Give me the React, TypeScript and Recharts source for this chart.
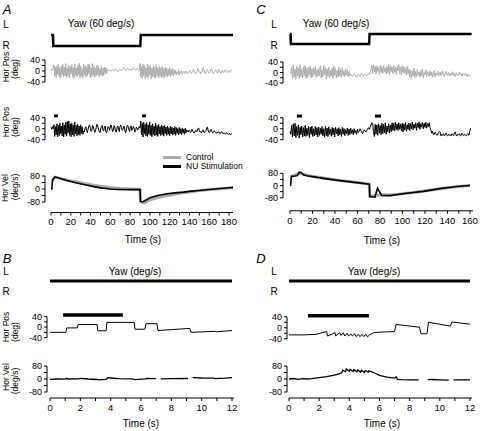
import { LineChart, Line, XAxis, YAxis, ReferenceLine } from "recharts"

const FONT = "'Liberation Sans', Arial, Helvetica, sans-serif"
const GRAY = "#ababab"
const BLACK = "#000"

// slow rotation recordings (A, C) are sampled every 0.75 s
const SLOW_DT = 0.75

// ---- A: 60 deg/s yaw steps ----
const aYawT = [0, 2, 2.3, 90.3, 90.8, 184]
const aYawV = [0, 0, -60, -60, 0, 0]
const aPosControl = [
  0, 6, 2, 10,
  22, -18, 15, -24, 19, -12, 25, -20, 12, -26,
  18, -15, 24, -21, 14, -17, 27, -23, 10, -19,
  21, -25, 16, -11, 23, -20, 13, -27, 26, -16,
  11, -22, 20, -14, 28, -24, 17, -19, 9, -26,
  24, -13, 19, -22, 15, -18, 25, -10, 22, -25,
  12, -20, 27, -15, 18, -23, 10, -17, 21, -12,
  16, -21, 8, -14, 19, -18, 11, -16, 14, -9,
  12, -10, 6,
  2, 5, 3, -1, 0, 4, 6, 3, 1, 4,
  7, 5, 2, -2, 1, 3, 6, 4, 2, 5,
  9, 12, 8, 4, 3, 6, 10, 7, 3, 5,
  8, 4, 2, 6, 11, 9, 5, 3, 7, 10,
  6, 4, 2,
  28, -22, 16, -26, 24, -18, 20, -27, 13, -21,
  25, -24, 17, -15, 22, -28, 11, -20, 19, -23,
  14, -26, 21, -17, 10, -25, 18, -19, 12, -24,
  16, -21, 8, -26, 14, -18, 11, -22, 6, -17,
  12, -20, 5, -15, 9, -19, 4,
  -12, 2, -14, -4, -10, 4, -16, -2, -8, 0,
  -12, -6, -2, -9, -4, 0, -7, -11, -5, -2,
  3, -4, -9, -6, -3, 6, 0, -8, -11, -4,
  -2, 9, 4, -6, -3, -10, -6, 0, 12, 6,
  -4, -9, -2, 1, 5, -3, -8, -5, 2, 8,
  3, -6, -10, -4, -1, 4, -2, -7, -3, 6,
  1, -5, -9, -2, 3, -4, -6, 0, 5, -1,
  -6, -3, 2, -2, -5, 1, 4, 0,
]
const aPosNu = [
  5, -2, 8, 0,
  15, -28, 8, -22, 18, -30, 12, -25, 20, -18,
  10, -26, 22, -30, 14, -20, 24, -27, 26, -16,
  28, -24, 18, -29, 20, -22, 14, -28, 24, -19,
  12, -26, 16, -21, 10, -24, 14, -17, 8, -20,
  -8, -12, 4, 8, -6, -14, -2, 10, 14, 2,
  -10, -6, 12, 8, -4, -13, -8, 6, 16, 10,
  -2, -10, -14, 0, 8, 12, -4, -8, 6, 10,
  -12, -15, -2, 8, 4, -6, 10, 14, 2, -10,
  -6, 12, 6, -8, -12, 4, 10, -2, -10, 8,
  14, 4, -6, -2, 10, 6, -12, -14, 2, 12,
  8, -4, -10, 6, 10, -6, -2, 8, 2, -12,
  -8, 6, 2, -4, 4, 8, 2,
  28, -22, 20, -30, 24, -18, 16, -26, 22, -28,
  14, -20, 25, -24, 12, -29, 18, -21, 10, -26,
  20, -23, 12, -28, 16, -19, 8, -25, 14, -22,
  10, -27, 12, -18, 6, -24, 9, -21, 4, -26,
  10, -19, 6, -23, 2, -20, 8, -24, 4, -17,
  1, -22, 5, -18, 0, -21, 3, -16, -2, -20,
  2, -15, -4,
  -8, -12, -4, -6, -14, -10, -2, -8, -13, -16,
  -10, -6, -12, -9, 0, 3, -8, -12, -10, -15,
  -7, -4, -12, -14, -9, -6, 4, 6, -8, -14,
  -12, -4, -2, -10, -15, -13, -8, -10, -14, -16,
  -12, -15, -11, -13, -18, -14, -10, -16, -19, -15,
  -17, -20, -16, -14, -18, -21, -17, -19, -22, -18,
  -20,
]
const aStim = [[3, 7], [92, 96]]
const aVelControlT = [1.5, 4, 10, 20, 30, 40, 50, 60, 70, 80, 90, 90.5, 95, 100, 110, 120, 130, 140, 150, 165, 184]
const aVelControl = [50, 72, 64, 50, 38, 27, 17, 9, 3, 0, -2, -80, -84, -66, -50, -38, -27, -18, -10, -1, 8]
const aVelNuT = [0, 0.8, 1.5, 4, 8, 16, 25, 33, 42, 50, 60, 67, 80, 90, 90.5, 92, 95, 100, 108, 117, 125, 134, 142, 150, 165, 180, 184]
const aVelNu = [0, 0, 55, 75, 68, 52, 38, 28, 16, 7, 0, -3, -4, -4, -76, -80, -72, -54, -40, -30, -24, -19, -13, -9, 0, 8, 10]

// ---- C: 60 deg/s yaw steps ----
const cYawT = [0, 0.5, 0.8, 70.3, 70.8, 161.5]
const cYawV = [0, 0, -60, -60, 0, 0]
const cPosControl = [
  0, -5,
  20, -22, 28, -18, 14, -26, 24, -14, 18, -24,
  30, -16, 12, -20, 22, -12, 26, -22, 16, -18,
  20, -10, 24, -20, 14, -16, 18, -8, 22, -18,
  10, -14, 16, -12, 25, -21, 11, -17, 27, -9,
  19, -23, 13, -15, 21, -19, 9, -13, 17, -22,
  24, -11, 15, -20, 8, -16, 20, -14, 12, -18,
  18, -12, 6, -15, 14, -10, 9, -17, 4, -12,
  -6, -12, -16, -10, -4, -8, -14, -18, -12, -6,
  -10, -15, -8, -3, -9, -14, -11, -6, -10, -13,
  -7, -4, -8, -2,
  10, 28, -4, 30, 2, 24, -6, 26, 4, 20,
  -8, 28, 0, 22, -4, 26, 2, 18, -6, 24,
  -2, 30, -8, 25, 3, 21, -5, 27, 1, 19,
  -7, 23, 5, 29, -3, 20, -9, 26, 0, 22,
  -4, 18, -10, 24, -6, 14,
  -18, 10, -22, 6, -14, 16, -20, 4, -16, 12,
  -10, 2, -18, 8, -12, 14, -20, 0, -8, 10,
  -16, 4, -6, -14, 6, -12, 2, -18, -4, 8,
  -16, -2, -10, 4, -14, -6, 2, -12, -4, 6,
  -10, -16, -2, 4, -8, -12, 0, -6, -14, -2,
  -9, 3, -11, -5, -15, -1, -8, -13, -4, 2,
  -10, -6, -14, -3, -8, -12, -2, -9, -16, -6,
  -11, -14, -10,
]
const cPosNu = [
  -10, -20,
  12, -30, 18, -26, 20, -32, 8, -24, 14, -34,
  6, -22, 10, -30, 4, -26, 12, -28, 2, -24,
  8, -32, 6, -20, 10, -28, 0, -26, 8, -22,
  4, -30, 6, -24, 2, -20, 8, -26, 0, -31,
  9, -25, 3, -29, 7, -21, -1, -27, 5, -23,
  2, -30, 6, -19, 0, -26, 4, -22, -2, -28,
  5, -20, 1, -25, -3, -18, 3, -24, -1, -21,
  2, -17, -4, -22, 0, -16, -6, -20, -2, -14,
  -8, 0, -6, -14, -18, -10, -4, -8, -12, -6,
  0, 4, -2, 6,
  14, 22, 18, -10,
  -28, 16, -20, 14, -24, 18, -16, 12, -22, 20,
  -18, 16, -14, 22, -20, 10, -12, 18, -16, 14,
  -10, 22, -6, 20, -8, 24, -4, 18, -6, 22,
  -2, 16, -8, 20, -12, 18, -5, 23, -9, 15,
  -3, 21, -7, 19, 0, 24, -4, 17, 2, 22,
  -6, 20, 4, 25, -2, 18, 6, 23, 0, 20,
  5, 24, 2, 19, 8, 22, 4,
  -4, -16, -10, -22, -20, -12, -18, -24, -22, -14,
  -10, -12, -26, -20, -24, -18, -26, -22, -16, -24,
  -26, -20, -24, -22, -26, -18, -22, -25, -14, -12,
  -24, -26, -20, -22, -18, -26, -24, -16, -22, -25,
  -20, -23, -26, -21, -18, -24, -10, 2,
]
const cStim = [[6.2, 10.7], [75.6, 80.9]]
const cVelControlT = [1.2, 8, 20, 40, 60, 70.5, 71, 80, 90, 110, 130, 150, 160]
const cVelControl = [58, 80, 60, 38, 20, 10, -70, -60, -62, -46, -24, -6, 0]
const cVelNuT = [0, 0.6, 1.2, 4.4, 6.5, 8.3, 9.8, 12, 14.8, 20, 29.6, 44.4, 59.3, 70.5, 71, 75.5, 76.5, 77.8, 79.5, 81.5, 88.9, 103.7, 118.5, 133.3, 148, 160]
const cVelNu = [0, 2, 60, 62, 66, 88, 85, 70, 64, 58, 47, 32, 19, 8, -72, -76, -50, -18, -40, -65, -66, -50, -38, -20, -6, 0]

// ---- B: stationary, 12 s ----
const bPosT = [0, 1.05, 1.1, 1.8, 1.85, 3.1, 3.15, 3.7, 3.75, 5.55, 5.6, 6.25, 6.33, 7.05, 7.12, 9.22, 9.3, 10.9, 10.95, 12]
const bPos = [-20, -20, -3, -3, 10, 10, -14, -14, 18, 18, -8, -8, 13, 13, -13, -5, -20, -16, -18, -13]
const bStim = [[0.86, 4.8]]
const bVelT = [0, 0.5, 1.0, 1.1, 1.2, 1.9, 2.0, 2.5, 3.1, 3.2, 3.7, 3.8, 4.0, 4.5, 5.4, 5.6, 5.8, 6.3, 6.4, 7.0, 7.15, 7.3, 8.0, 9.1, 9.25, 9.4, 10.0, 10.8, 10.9, 11.5, 12]
const bVel = [-2, 0, -1, 4, 0, 1, 4, 0, -3, -5, -2, 8, 6, 2, 1, -4, -2, 1, 3, 2, null, 1, 2, 3, null, 8, 6, 5, 2, 5, 9]

// ---- D: stationary, 12 s ----
const dPosT = [0, 1.0, 1.8, 2.2, 2.5, 2.55, 2.9, 3.05, 3.1, 3.35, 3.45, 3.6, 3.7, 3.85, 3.95, 4.1, 4.2, 4.35, 4.45, 4.6, 4.7, 4.85, 4.95, 5.1, 5.2, 5.35, 5.6, 6.0, 6.5, 7.0, 7.1, 8.65, 8.75, 9.15, 9.25, 10.7, 10.8, 12]
const dPos = [-26, -26, -24, -18, -14, -30, -22, -18, -30, -18, -28, -18, -30, -20, -30, -22, -30, -22, -32, -24, -32, -24, -32, -24, -33, -26, -18, -16, -15, -14, 12, 2, -22, -22, 20, 6, 21, 13]
const dStim = [[1.26, 5.3]]
const dVelT = [0, 0.3, 0.6, 0.9, 1.2, 1.5, 2.0, 2.5, 3.0, 3.3, 3.5, 3.55, 3.75, 3.8, 4.0, 4.05, 4.25, 4.3, 4.5, 4.55, 4.75, 4.8, 5.0, 5.05, 5.25, 5.3, 5.6, 6.0, 6.5, 7.0, 7.1, 7.2, 7.5, 8.0, 8.6, 8.75, 9.2, 9.4, 10.0, 10.6, 10.75, 10.9, 11.5, 12]
const dVel = [0, 3, -2, 2, 0, 2, 8, 14, 24, 32, 38, 54, 44, 62, 48, 60, 46, 58, 44, 56, 42, 54, 40, 52, 42, 50, 40, 22, 12, 5, 14, -2, -4, -5, -6, null, -4, -3, -5, -7, null, -6, -5, -6]

const stillYawT = [0, 12]
const stillYaw = [0, 0]

// ---- ticks ----
const posTicks = [-40, -20, 0, 20, 40]
const posLabels = [-40, 0, 40]
const velTicks = [-80, -40, 0, 40, 80]
const velLabels = [-80, 0, 80]
const aTimeTicks = [0, 10, 20, 30, 40, 50, 60, 70, 80, 90, 100, 110, 120, 130, 140, 150, 160, 170, 180]
const cTimeTicks = [0, 10, 20, 30, 40, 50, 60, 70, 80, 90, 100, 110, 120, 130, 140, 150, 160]
const slowTimeLabels = [0, 20, 40, 60, 80, 100, 120, 140, 160, 180]
const fastTimeTicks = [0, 1, 2, 3, 4, 5, 6, 7, 8, 9, 10, 11, 12]
const fastTimeLabels = [0, 2, 4, 6, 8, 10, 12]

type Pt = { t: number; v: number | null }
type Series = { data: Pt[]; color: string; width: number }

const zip = (t: number[], v: (number | null)[]): Pt[] => t.map((x, i) => ({ t: x, v: v[i] }))
const sampled = (v: number[]): Pt[] => v.map((y, i) => ({ t: i * SLOW_DT, v: y }))
const stimBars = (spans: number[][], level: number, width: number): Series[] =>
  spans.map(([a, b]) => ({ data: [{ t: a, v: level }, { t: b, v: level }], color: BLACK, width }))

type Col = {
  left: number
  axisX: number
  plotRight: number
  xDomain: [number, number]
  xTicks: number[]
  xLabels: number[]
}

const colA: Col = { left: 0, axisX: 45, plotRight: 233, xDomain: [-6.07, 184], xTicks: aTimeTicks, xLabels: slowTimeLabels }
const colC: Col = { left: 240, axisX: 283, plotRight: 473, xDomain: [-6.2, 162.7], xTicks: cTimeTicks, xLabels: slowTimeLabels }
const colB: Col = { left: 0, axisX: 47, plotRight: 234, xDomain: [-0.2, 12.13], xTicks: fastTimeTicks, xLabels: fastTimeLabels }
const colD: Col = { left: 240, axisX: 287, plotRight: 472, xDomain: [-0.133, 12.135], xTicks: fastTimeTicks, xLabels: fastTimeLabels }

const label = (list: number[]) => (v: number) => (list.includes(v) ? String(v) : "")

function Row({
  col,
  plotTop,
  plotBottom,
  yDomain,
  yTicks,
  yLabels,
  series,
  xAxis = false,
}: {
  col: Col
  plotTop: number
  plotBottom: number
  yDomain: [number, number]
  yTicks?: number[]
  yLabels?: number[]
  series: Series[]
  xAxis?: boolean
}) {
  const mt = 8
  const mb = 8
  const xh = xAxis ? 24 : 0
  const height = plotBottom - plotTop + mt + mb + xh
  const hasY = !!yTicks
  return (
    <div style={{ position: "absolute", left: col.left, top: plotTop - mt }}>
      <LineChart
        width={240}
        height={height}
        margin={{ top: mt, right: col.left + 240 - col.plotRight, bottom: mb, left: 0 }}
      >
        <XAxis
          type="number"
          dataKey="t"
          domain={col.xDomain}
          hide={!xAxis}
          ticks={col.xTicks}
          interval={0}
          height={xh}
          axisLine={false}
          tickSize={3}
          tickMargin={3}
          tickLine={{ stroke: BLACK }}
          tick={{ fontSize: 9.5, fill: BLACK, fontFamily: FONT }}
          tickFormatter={label(col.xLabels)}
        />
        <YAxis
          type="number"
          domain={yDomain}
          width={col.axisX - col.left}
          ticks={yTicks ?? []}
          interval={0}
          axisLine={false}
          tickSize={3}
          tickMargin={2}
          tickLine={hasY ? { stroke: BLACK } : false}
          tick={hasY ? { fontSize: 9, fill: BLACK, fontFamily: FONT } : false}
          tickFormatter={label(yLabels ?? [])}
        />
        {hasY && (
          <ReferenceLine
            segment={[
              { x: col.xDomain[0], y: yTicks![0] },
              { x: col.xDomain[0], y: yTicks![yTicks!.length - 1] },
            ]}
            stroke={BLACK}
            strokeWidth={1}
          />
        )}
        {xAxis && (
          <ReferenceLine
            segment={[
              { x: 0, y: yDomain[0] },
              { x: col.xDomain[1], y: yDomain[0] },
            ]}
            stroke={BLACK}
            strokeWidth={1}
          />
        )}
        {series.map((s, i) => (
          <Line
            key={i}
            data={s.data}
            dataKey="v"
            type="linear"
            stroke={s.color}
            strokeWidth={s.width}
            dot={false}
            activeDot={false}
            connectNulls={false}
            isAnimationActive={false}
          />
        ))}
      </LineChart>
    </div>
  )
}

function Txt({
  x,
  y,
  size = 10,
  rotate = false,
  italic = false,
  start = false,
  children,
}: {
  x: number
  y: number
  size?: number
  rotate?: boolean
  italic?: boolean
  start?: boolean
  children: React.ReactNode
}) {
  return (
    <div
      style={{
        position: "absolute",
        left: x,
        top: y,
        transform: `translate(${start ? "0" : "-50%"}, -50%)${rotate ? " rotate(-90deg)" : ""}`,
        fontSize: size,
        fontFamily: FONT,
        fontStyle: italic ? "italic" : "normal",
        lineHeight: 1,
        whiteSpace: "nowrap",
        color: BLACK,
      }}
    >
      {children}
    </div>
  )
}

function Swatch({ x, y, w, h, color }: { x: number; y: number; w: number; h: number; color: string }) {
  return <div style={{ position: "absolute", left: x, top: y - h / 2, width: w, height: h, background: color }} />
}

export default function App() {
  return (
    <div style={{ position: "absolute", left: 0, top: 0, width: 480, height: 431, background: "#fff", overflow: "hidden" }}>
      {/* panel A */}
      <Row col={colA} plotTop={35} plotBottom={46} yDomain={[-60, 0]} series={[{ data: zip(aYawT, aYawV), color: BLACK, width: 2.5 }]} />
      <Row col={colA} plotTop={60} plotBottom={82} yDomain={[-40, 40]} yTicks={posTicks} yLabels={posLabels}
        series={[{ data: sampled(aPosControl), color: GRAY, width: 1 }]} />
      <Row col={colA} plotTop={115.25} plotBottom={140} yDomain={[-40, 50]} yTicks={posTicks} yLabels={posLabels}
        series={[{ data: sampled(aPosNu), color: BLACK, width: 1 }, ...stimBars(aStim, 47, 3)]} />
      <Row col={colA} plotTop={175.5} plotBottom={212.06} yDomain={[-145, 80]} yTicks={velTicks} yLabels={velLabels} xAxis
        series={[
          { data: zip(aVelControlT, aVelControl), color: GRAY, width: 3 },
          { data: zip(aVelNuT, aVelNu), color: BLACK, width: 1.6 },
        ]} />

      {/* panel C */}
      <Row col={colC} plotTop={34} plotBottom={44} yDomain={[-60, 0]} series={[{ data: zip(cYawT, cYawV), color: BLACK, width: 2.5 }]} />
      <Row col={colC} plotTop={62} plotBottom={83} yDomain={[-40, 40]} yTicks={posTicks} yLabels={posLabels}
        series={[{ data: sampled(cPosControl), color: GRAY, width: 1 }]} />
      <Row col={colC} plotTop={115.25} plotBottom={140} yDomain={[-40, 50]} yTicks={posTicks} yLabels={posLabels}
        series={[{ data: sampled(cPosNu), color: BLACK, width: 1 }, ...stimBars(cStim, 46, 3)]} />
      <Row col={colC} plotTop={171.2} plotBottom={211} yDomain={[-165, 95]} yTicks={velTicks} yLabels={velLabels} xAxis
        series={[
          { data: zip(cVelControlT, cVelControl), color: GRAY, width: 3 },
          { data: zip(cVelNuT, cVelNu), color: BLACK, width: 1.6 },
        ]} />

      {/* panel B */}
      <Row col={colB} plotTop={280} plotBottom={282} yDomain={[-1, 1]} series={[{ data: zip(stillYawT, stillYaw), color: BLACK, width: 3 }]} />
      <Row col={colB} plotTop={314.4} plotBottom={338} yDomain={[-40, 50]} yTicks={posTicks} yLabels={posLabels}
        series={[{ data: zip(bPosT, bPos), color: BLACK, width: 1 }, ...stimBars(bStim, 46, 3.5)]} />
      <Row col={colB} plotTop={366} plotBottom={398} yDomain={[-117, 80]} yTicks={velTicks} yLabels={velLabels} xAxis
        series={[{ data: zip(bVelT, bVel), color: BLACK, width: 1.3 }]} />

      {/* panel D */}
      <Row col={colD} plotTop={280} plotBottom={282} yDomain={[-1, 1]} series={[{ data: zip(stillYawT, stillYaw), color: BLACK, width: 3 }]} />
      <Row col={colD} plotTop={314.25} plotBottom={339} yDomain={[-40, 50]} yTicks={posTicks} yLabels={posLabels}
        series={[{ data: zip(dPosT, dPos), color: BLACK, width: 1 }, ...stimBars(dStim, 44, 3.5)]} />
      <Row col={colD} plotTop={366} plotBottom={398} yDomain={[-117, 80]} yTicks={velTicks} yLabels={velLabels} xAxis
        series={[{ data: zip(dVelT, dVel), color: BLACK, width: 1.3 }]} />

      {/* panel letters */}
      <Txt x={7} y={9} size={13} italic>A</Txt>
      <Txt x={261} y={9} size={13} italic>C</Txt>
      <Txt x={7} y={258} size={13} italic>B</Txt>
      <Txt x={261} y={258} size={13} italic>D</Txt>

      {/* stimulus labels */}
      <Txt x={6} y={25}>L</Txt>
      <Txt x={6} y={46}>R</Txt>
      <Txt x={101} y={24}>Yaw (60 deg/s)</Txt>
      <Txt x={274} y={25}>L</Txt>
      <Txt x={274} y={46}>R</Txt>
      <Txt x={336} y={24}>Yaw (60 deg/s)</Txt>
      <Txt x={6} y={272}>L</Txt>
      <Txt x={6} y={292}>R</Txt>
      <Txt x={135} y={272}>Yaw (deg/s)</Txt>
      <Txt x={274} y={272}>L</Txt>
      <Txt x={274} y={292}>R</Txt>
      <Txt x={374} y={272}>Yaw (deg/s)</Txt>

      {/* axis titles */}
      <Txt x={6} y={67} size={8.5} rotate>Hor Pos</Txt>
      <Txt x={15} y={69} size={8.5} rotate>(deg)</Txt>
      <Txt x={6} y={122} size={8.5} rotate>Hor Pos</Txt>
      <Txt x={15} y={127} size={8.5} rotate>(deg)</Txt>
      <Txt x={5} y={188} size={8.5} rotate>Hor Vel</Txt>
      <Txt x={15} y={187} size={8.5} rotate>(deg/s)</Txt>
      <Txt x={6} y={327} size={8.5} rotate>Hor Pos</Txt>
      <Txt x={15} y={332} size={8.5} rotate>(deg)</Txt>
      <Txt x={6} y={377} size={8.5} rotate>Hor Vel</Txt>
      <Txt x={15} y={381} size={8.5} rotate>(deg/s)</Txt>

      <Txt x={143} y={240}>Time (s)</Txt>
      <Txt x={382} y={241}>Time (s)</Txt>
      <Txt x={141} y={424}>Time (s)</Txt>
      <Txt x={382} y={424}>Time (s)</Txt>

      {/* legend */}
      <Swatch x={163} y={157.5} w={18} h={3} color={GRAY} />
      <Txt x={186} y={157} size={8.5} start>Control</Txt>
      <Swatch x={163} y={166} w={18} h={3} color={BLACK} />
      <Txt x={186} y={166} size={8.5} start>NU Stimulation</Txt>
    </div>
  )
}
